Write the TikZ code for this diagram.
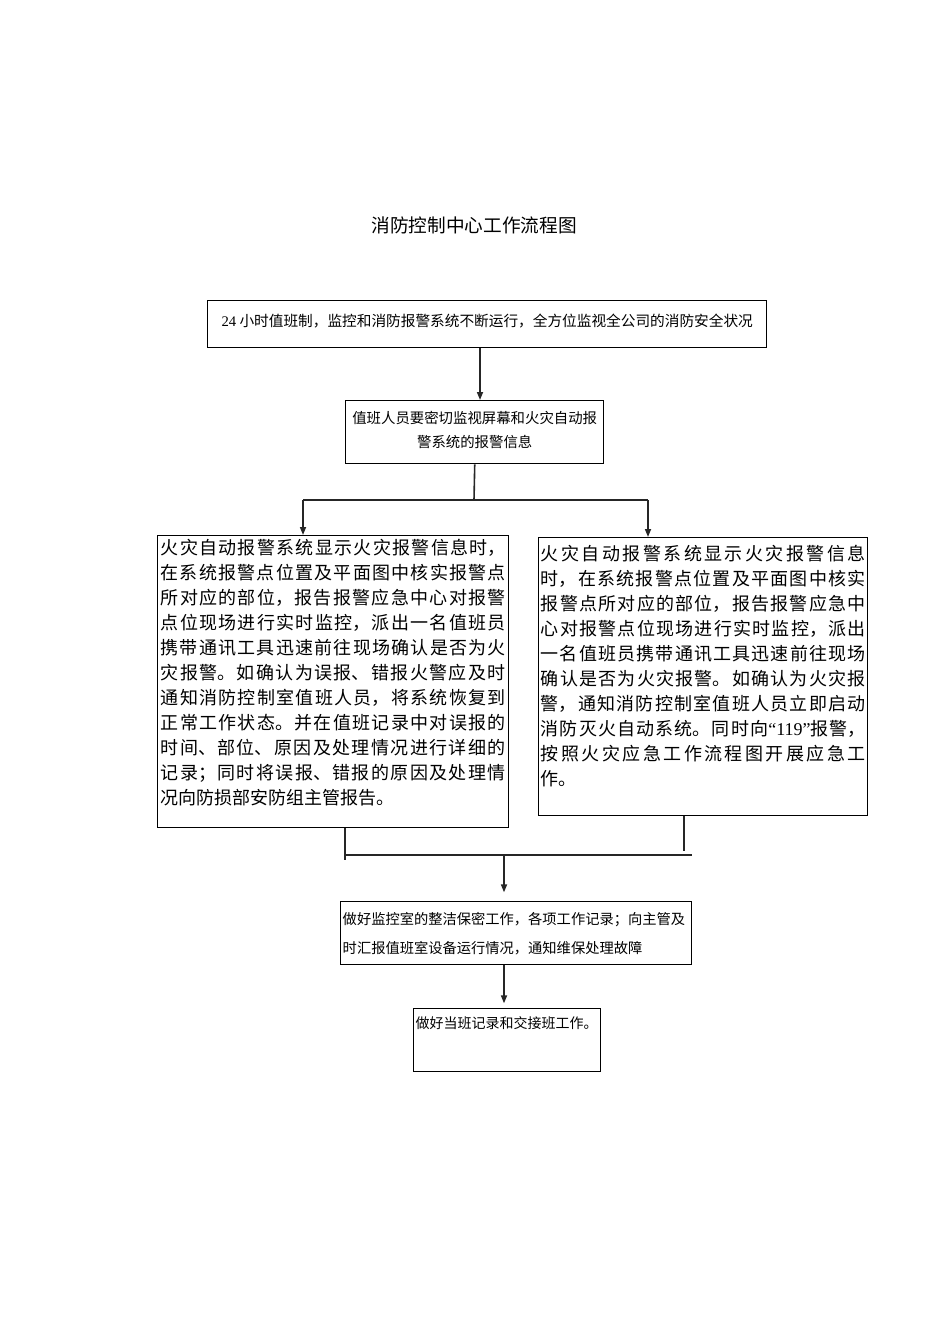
\documentclass[tikz,border=0pt]{standalone}
\usepackage{fontspec}
\setmainfont{Noto Sans CJK SC}
\newfontfamily\lat{Liberation Serif}
\usetikzlibrary{arrows.meta}
\XeTeXlinebreaklocale "zh"
\XeTeXlinebreakskip=0pt plus 3pt
\tolerance=9999
\emergencystretch=0pt
\tikzset{
  box/.style={draw=black, line width=1.1pt, anchor=north west, inner ysep=0pt, inner xsep=0pt},
  conn/.style={draw=black!85, line width=1.2pt},
  arr/.style={conn, -{Triangle[length=6pt,width=4.5pt]}}
}
\begin{document}
\begin{tikzpicture}[x=0.75pt,y=-0.75pt]
\useasboundingbox (0,0) rectangle (950,1344);

\node[font=\fontsize{14pt}{16pt}\selectfont] (title) at (474,225) {消防控制中心工作流程图};

\node[box] (b1) at (207,300) {\parbox[c][35.25pt][t]{419.25pt}{\centering\fontsize{11pt}{14pt}\selectfont\rule{0pt}{19pt}{\lat 24} 小时值班制，监控和消防报警系统不断运行，全方位监视全公司的消防安全状况}};

\node[box] (b2) at (345,400) {\parbox[c][47.25pt][t]{193.5pt}{\centering\fontsize{10.8pt}{18pt}\selectfont\rule{0pt}{17.4pt}值班人员要密切监视屏幕和火灾自动报\\警系统的报警信息}};

\node[box, inner xsep=2.25pt] (b3) at (157,535) {\parbox[c][219pt][t]{258.75pt}{\fontsize{13.5pt}{18.75pt}\selectfont\rule{0pt}{13.9pt}%
火灾自动报警系统显示火灾报警信息时，\linebreak%
在系统报警点位置及平面图中核实报警点\linebreak%
所对应的部位，报告报警应急中心对报警\linebreak%
点位现场进行实时监控，派出一名值班员\linebreak%
携带通讯工具迅速前往现场确认是否为火\linebreak%
灾报警。如确认为误报、错报火警应及时\linebreak%
通知消防控制室值班人员，将系统恢复到\linebreak%
正常工作状态。并在值班记录中对误报的\linebreak%
时间、部位、原因及处理情况进行详细的\linebreak%
记录；同时将误报、错报的原因及处理情\linebreak%
况向防损部安防组主管报告。}};

\node[box, inner xsep=1.5pt] (b4) at (538,537) {\parbox[c][208.5pt][t]{243.75pt}{\fontsize{13.5pt}{18.75pt}\selectfont\rule{0pt}{16.9pt}%
火灾自动报警系统显示火灾报警信息\linebreak%
时，在系统报警点位置及平面图中核实\linebreak%
报警点所对应的部位，报告报警应急中\linebreak%
心对报警点位现场进行实时监控，派出\linebreak%
一名值班员携带通讯工具迅速前往现场\linebreak%
确认是否为火灾报警。如确认为火灾报\linebreak%
警，通知消防控制室值班人员立即启动\linebreak%
消防灭火自动系统。同时向{\lat “119”}报警，\linebreak%
按照火灾应急工作流程图开展应急工\linebreak%
作。}};

\node[box, inner xsep=1.5pt] (b5) at (340,901) {\parbox[c][47.25pt][t]{260.25pt}{\fontsize{10.7pt}{21.75pt}\selectfont\rule{0pt}{16.7pt}%
做好监控室的整洁保密工作，各项工作记录；向主管及\\
时汇报值班室设备运行情况，通知维保处理故障}};

\node[box, inner xsep=1.5pt] (b6) at (413,1008) {\parbox[c][47.25pt][t]{137.25pt}{\fontsize{10.5pt}{14pt}\selectfont\rule{0pt}{15pt}做好当班记录和交接班工作。}};

% b1 -> b2
\coordinate (xa) at (480,0);
\draw[arr] (xa |- b1.south) -- (xa |- b2.north);

% split
\coordinate (s) at (474,500);
\coordinate (sl) at (303,500);
\coordinate (sr) at (648,500);
\draw[conn] (b2.south) -- (s);
\draw[conn] (sl) -- (sr);
\draw[arr] (sl) -- (sl |- b3.north);
\draw[arr] (sr) -- (sr |- b4.north);

% merge
\coordinate (ml) at (345,860);
\coordinate (mr) at (684,851);
\coordinate (hl) at (345,855);
\coordinate (hr) at (692,855);
\coordinate (m) at (504,855);
\draw[conn] (ml |- b3.south) -- (ml);
\draw[conn] (mr |- b4.south) -- (mr);
\draw[conn] (hl) -- (hr);
\draw[arr, shorten >=6.5pt] (m) -- (m |- b5.north);

% b5 -> b6
\coordinate (xb) at (504,0);
\draw[arr, shorten >=3.5pt] (xb |- b5.south) -- (xb |- b6.north);
\end{tikzpicture}
\end{document}
